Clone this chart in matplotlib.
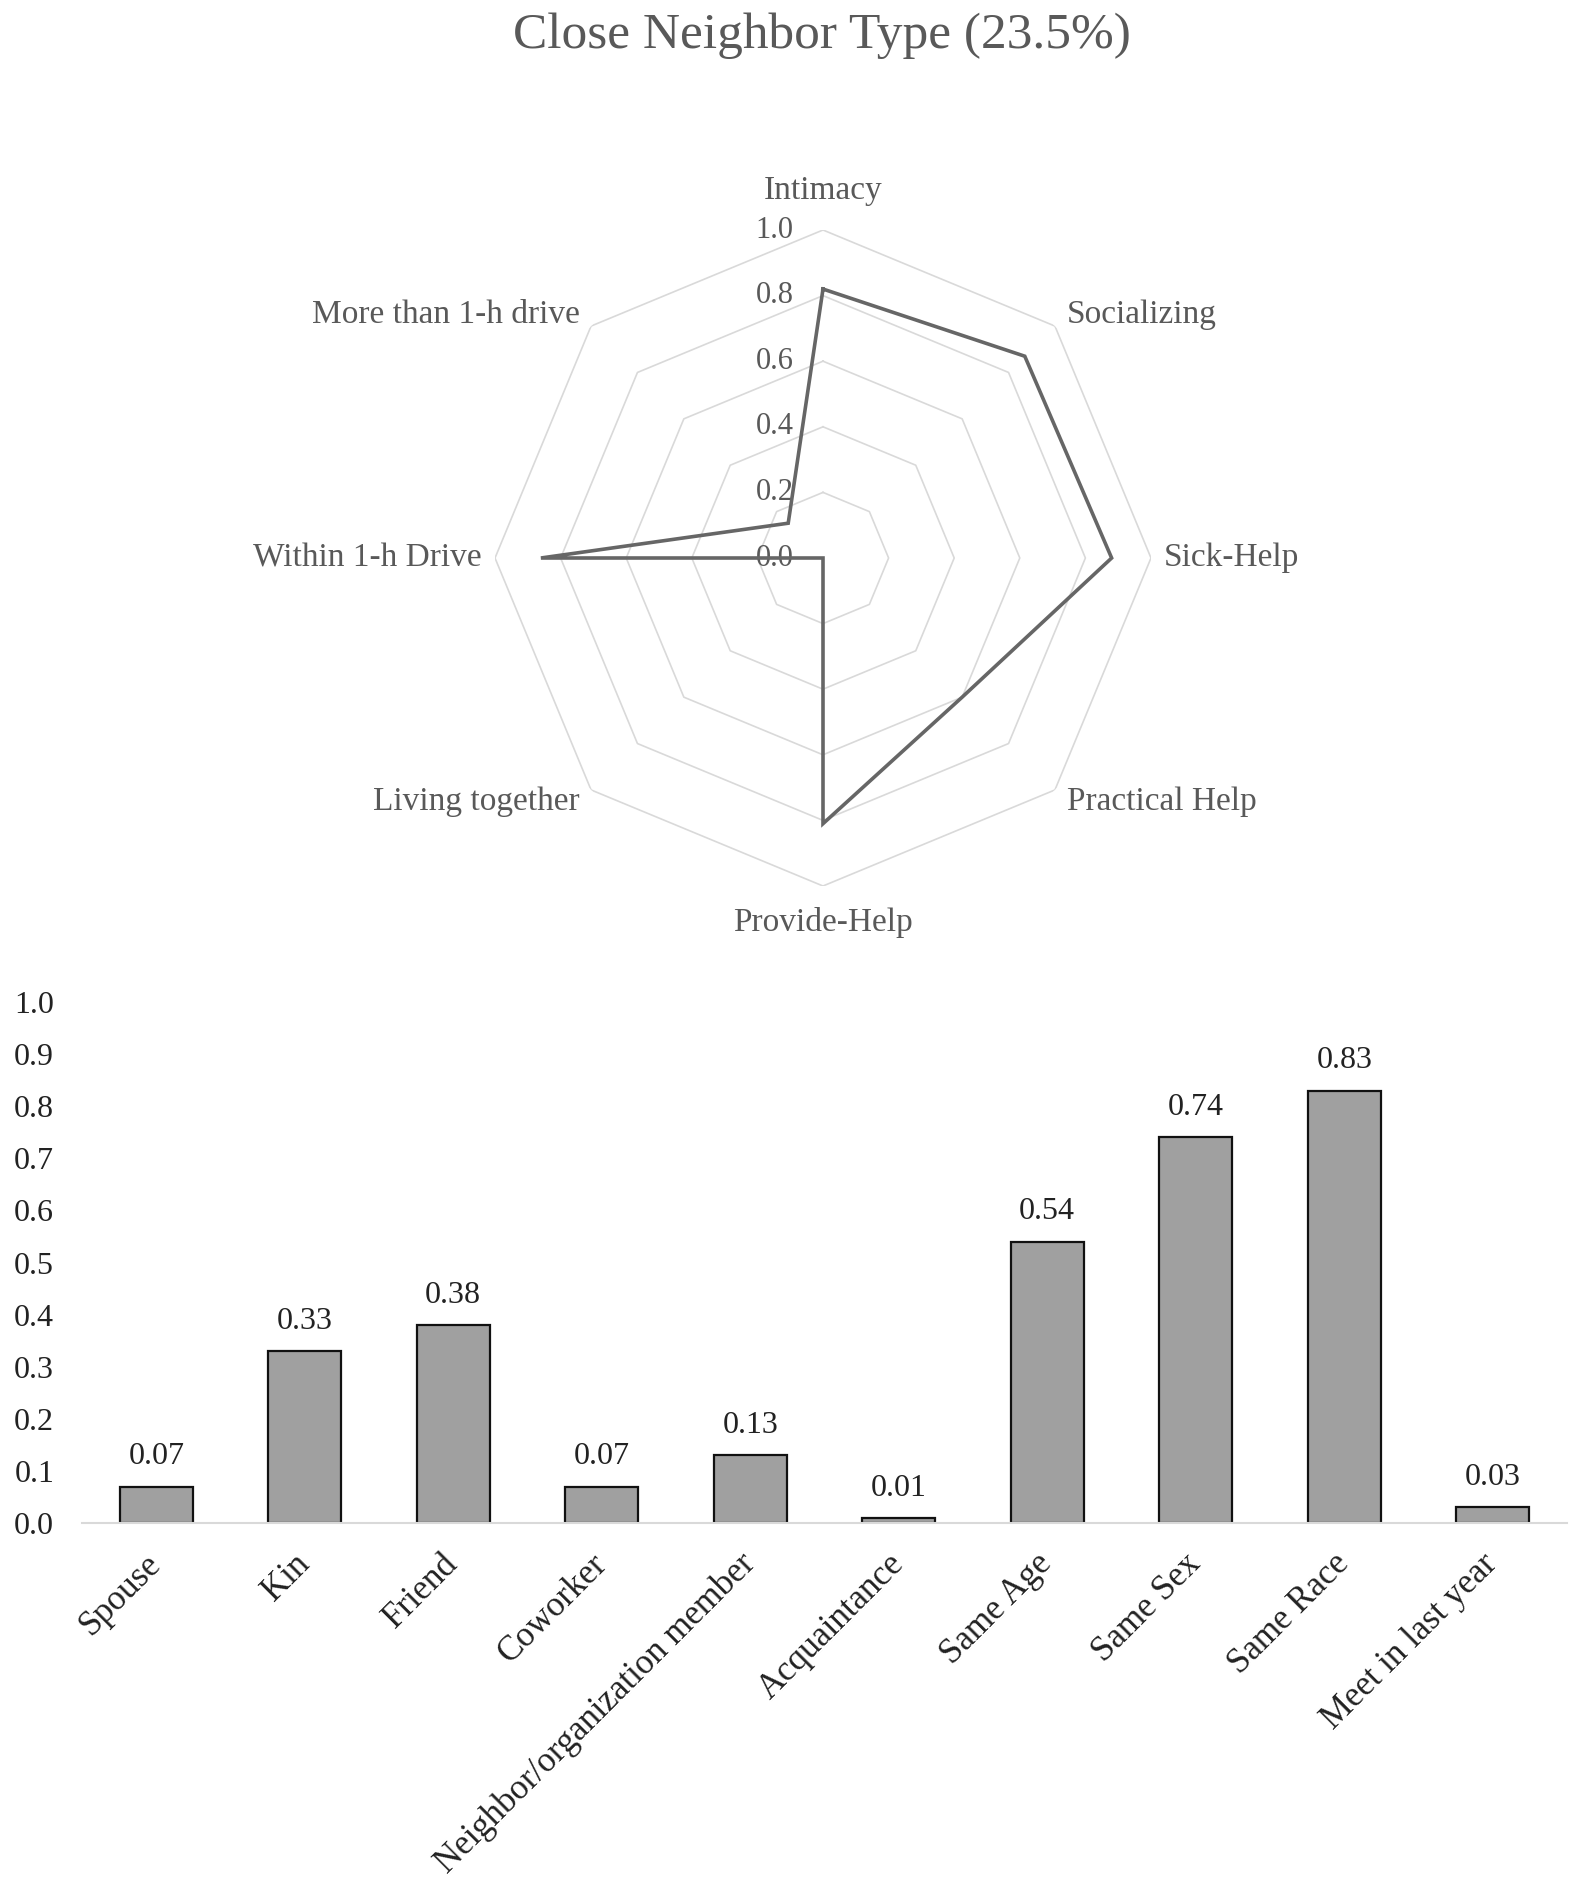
import numpy as np
import matplotlib
matplotlib.use('Agg')
import matplotlib.pyplot as plt

plt.rcParams['font.family'] = ['Liberation Serif', 'DejaVu Serif']

title = 'Close Neighbor Type (23.5%)'

radar_labels = ['Intimacy', 'Socializing', 'Sick-Help', 'Practical Help',
                'Provide-Help', 'Living together', 'Within 1-h Drive', 'More than 1-h drive']
radar_values = [0.82, 0.87, 0.88, 0.60, 0.81, 0.0, 0.86, 0.15]
radar_ticks = [0.0, 0.2, 0.4, 0.6, 0.8, 1.0]

bar_labels = ['Spouse', 'Kin', 'Friend', 'Coworker', 'Neighbor/organization member',
              'Acquaintance', 'Same Age', 'Same Sex', 'Same Race', 'Meet in last year']
bar_values = [0.07, 0.33, 0.38, 0.07, 0.13, 0.01, 0.54, 0.74, 0.83, 0.03]
bar_yticks = [0.0, 0.1, 0.2, 0.3, 0.4, 0.5, 0.6, 0.7, 0.8, 0.9, 1.0]

W, H = 1575, 1892
fig = plt.figure(figsize=(W / 100, H / 100), dpi=100)

grey_txt = '#595959'
fig.text(822 / W, 1 - 36 / H, title, ha='center', va='center', fontsize=37, color=grey_txt)

# ---- radar ----
cx, cy, R = 823, 558, 328
ax = fig.add_axes([(cx - R) / W, 1 - (cy + R) / H, 2 * R / W, 2 * R / H], projection='polar')
ax.set_theta_zero_location('N')
ax.set_theta_direction(-1)
ax.set_ylim(0, 1)
ax.grid(False)
ax.spines['polar'].set_visible(False)
ax.set_xticks([])
ax.set_yticks([])
ax.patch.set_alpha(0)

n = len(radar_labels)
theta = np.linspace(0, 2 * np.pi, n, endpoint=False)
theta_c = np.append(theta, theta[0])

for lv in radar_ticks[1:]:
    ax.plot(theta_c, [lv] * (n + 1), color='#d9d9d9', lw=1.2, zorder=1)

vals = np.append(radar_values, radar_values[0])
ax.plot(theta_c, vals, color='#666666', lw=2.6, zorder=3, solid_joinstyle='miter')

for lv in radar_ticks:
    ax.annotate(f'{lv:.1f}', xy=(0, lv), xytext=(-21, 0), textcoords='offset points',
                ha='right', va='center', fontsize=22, color=grey_txt, zorder=2)

label_opts = [
    (1.12, 'center', 'center'),
    (1.05, 'left', 'center'),
    (1.04, 'left', 'center'),
    (1.05, 'left', 'center'),
    (1.11, 'center', 'center'),
    (1.05, 'right', 'center'),
    (1.04, 'right', 'center'),
    (1.05, 'right', 'center'),
]
for t, lab, (r, ha, va) in zip(theta, radar_labels, label_opts):
    ax.text(t, r, lab, ha=ha, va=va, fontsize=24, color=grey_txt, clip_on=False)

# ---- bars ----
bx = fig.add_axes([82 / W, 1 - 1523 / H, (1567 - 82) / W, (1523 - 1002) / H])
x = np.arange(len(bar_labels))
bars = bx.bar(x, bar_values, width=0.49, color='#a0a0a0', edgecolor='#111111', linewidth=1.6)
bx.bar_label(bars, labels=[f'{v:.2f}' for v in bar_values], padding=11, fontsize=23, color='#222222')
bx.set_xlim(-0.5, len(bar_labels) - 0.5)
bx.set_ylim(0, 1.0)
bx.set_yticks(bar_yticks)
bx.set_yticklabels([f'{v:.1f}' for v in bar_yticks])
bx.set_xticks(x)
bx.set_xticklabels(bar_labels, rotation=45, ha='right', va='center', rotation_mode='anchor')
bx.tick_params(axis='both', length=0, labelsize=23, labelcolor='#222222')
bx.tick_params(axis='x', labelsize=25, pad=26)
bx.tick_params(axis='y', pad=20)
for s in ['top', 'right', 'left']:
    bx.spines[s].set_visible(False)
bx.spines['bottom'].set_color('#d9d9d9')
bx.spines['bottom'].set_linewidth(1.5)
bx.patch.set_alpha(0)

fig.savefig('out.png', dpi=100)
